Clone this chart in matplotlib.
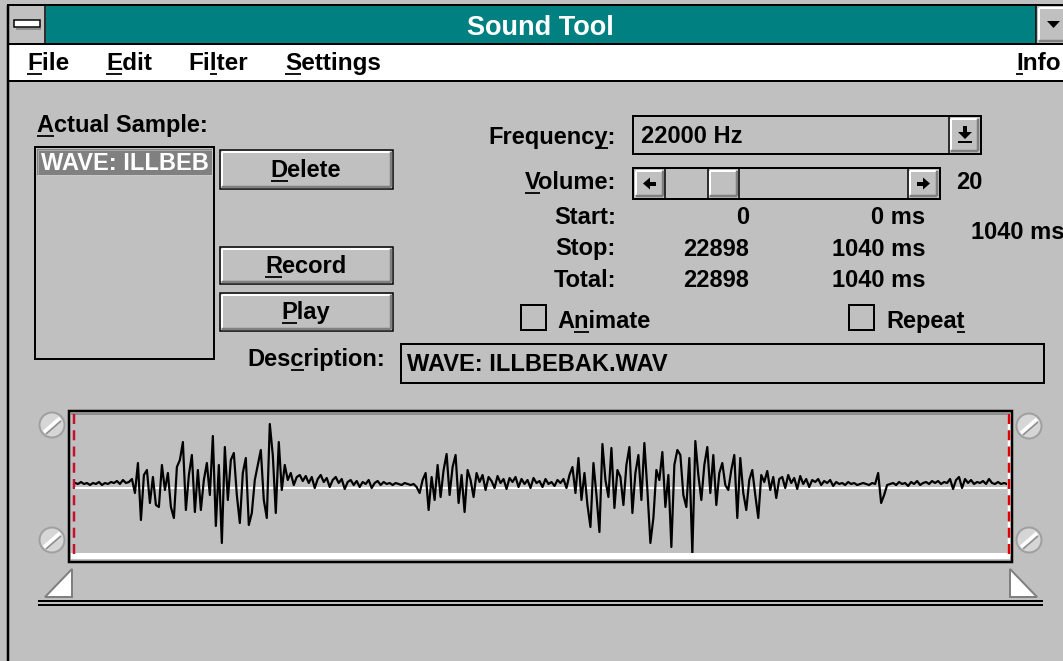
"""
Sound Tool dialog (Windows 3.x style) with the recorded waveform.
"""

import numpy as np
import matplotlib.pyplot as plt
from matplotlib.patches import Rectangle, Circle, Polygon

W, H = 1063, 661
PX = 72 / 100  # one pixel in points at dpi 100
GRAY = "#c0c0c0"
DARK = "#808080"
TEAL = "#008080"

plt.rcParams["font.family"] = ["Liberation Sans", "DejaVu Sans"]

# ---- data -------------------------------------------------------------
title = "Sound Tool"
menu_labels = ["File", "Edit", "Filter", "Settings"]
menu_hotkeys = [0, 0, 2, 0]
sample_name = "WAVE: ILLBEBAK.WAV"
frequency_hz = 22000
volume = 20
row_labels = ["Start:", "Stop:", "Total:"]
row_samples = [0, 22898, 22898]
row_ms = [0, 1040, 1040]
selection_ms = 1040

# waveform, 8-bit sample offsets from the zero line
wave_lead = [2, 1, 3, 1, 2, 0, 2, 1, 3, 0, 2, 1, 3, 2, 4, 1, 5, 2]
wave_burst1 = [3, 6, -8, 22, -35, 10, 15, -18, 8, -20, -22, 20, -5, 12, -22,
               -33, 18, 25, 43, -25, 10, 30, -27, 15, -25, 5, 22, -10, 49,
               -41, 20, -58, 38, -15, 25, 32, -10, -38, 12, 27, -40, -28, 5,
               20, 35, -15, -33, 61, 30, -28, 43, -5, 20, 5, 12, 0, 8]
wave_tail1 = [10, 4, 9, 2, 8, -3, 6, 10, 3, 7, -2, 5, 8, 2, 6, -4, 3, 5, 0,
              4, -2, 3, 1, 5, -3, 2, 4, 0, 3, 1, 2, 0, 2, 1, 0, 2, 1, 0, 1]
wave_burst2 = [-2, -8, 5, 12, -25, 8, -15, 20, -12, 15, 31, -10, 18, 30, -18,
               10, -27, 15, 5, -12, 12, 3, 10, -5, 8, 4, -3, 9, 2, 6, -4, 7,
               3, 8, -2, 6, 1, 5, -3, 7, 2, 4, -2, 6, 1, 3, -1, 5]
wave_gap = [2, 6, -3, 10]
wave_burst3 = [18, -8, 27, -15, 12, -20, -42, 22, -10, -47, 41, 5, -12, 37,
               -23, 15, 8, -20, 20, 38, -28, 12, 30, -15, 42, -5, -58, -33,
               15, 5, 33, -22, 10, -62, 20, 35, 30, -10, -22, 27, -69, 44, 10,
               -15, 20, 38, -8, 30, -20, 12, 22, 0, -5, 15, 30, -33, 27, -8,
               -25, 5, 15, -10, -33, 10, 3, 14, -5, 8, -13, 6]
wave_tail3 = [8, -3, 10, 2, 7, -4, 9, 1, 6, -2, 5, 3, 6, 0, 4, 2, 5, -1, 3, 1,
              2, 0, 3, 1, 2, 0, 1, 2, 1, 0, 2, 1]
wave_end = [12, -18, -10, 0, 1, 2, 0, 3, 1, 2, -1, 3, 1, 4, 0, 2, 3, 1, 4, 2,
            4, 1, 3, 2, 6, -4, 5, 8, -3, 6, 2, 5, 1, 3, 2, 4, 1, 6, 2, 1, 3,
            1, 2, 1]

wave = np.array(wave_lead + wave_burst1 + wave_tail1 + wave_burst2 + wave_gap
                + wave_burst3 + wave_tail3 + wave_end)

# ---- canvas -----------------------------------------------------------
fig = plt.figure(figsize=(W / 100, H / 100), dpi=100, facecolor=GRAY)
ax = fig.add_axes([0, 0, 1, 1])
ax.set_xlim(0, W)
ax.set_ylim(H, 0)
ax.axis("off")
renderer = fig.canvas.get_renderer()


def rect(x0, y0, x1, y1, fc="none", ec="none", lw=0.0, z=1):
    p = Rectangle((x0, y0), x1 - x0, y1 - y0, fc=fc, ec=ec, lw=lw * PX, zorder=z)
    ax.add_patch(p)
    return p


def line(xs, ys, color="black", lw=1.0, z=2, **kw):
    ax.plot(xs, ys, color=color, lw=lw * PX, solid_capstyle="butt", zorder=z, **kw)


def raised(x0, y0, x1, y1, border=True):
    rect(x0, y0, x1, y1, fc=GRAY, ec="black" if border else "none",
         lw=1.5 if border else 0, z=2)
    line([x0 + 2, x1 - 3], [y0 + 2, y0 + 2], "white", 2, z=3)
    line([x0 + 2, x0 + 2], [y0 + 2, y1 - 3], "white", 2, z=3)
    line([x0 + 2, x1 - 2], [y1 - 2, y1 - 2], DARK, 2.5, z=3)
    line([x1 - 2, x1 - 2], [y0 + 2, y1 - 2], DARK, 2.5, z=3)


def label(x, y, s, hot=None, ha="left", size=17, color="black", clip=None):
    t = ax.text(x, y, s, ha=ha, va="baseline", fontsize=size, color=color,
                fontweight="bold", zorder=6)
    if clip is not None:
        t.set_clip_path(clip)
        t.set_clip_on(True)
    if hot is None:
        return t

    def width(sub):
        if not sub:
            return 0.0
        tmp = ax.text(0, 0, sub, fontsize=size, fontweight="bold")
        w = tmp.get_window_extent(renderer).width
        tmp.remove()
        return w

    left = t.get_window_extent(renderer).x0
    a = left + width(s[:hot])
    b = left + width(s[:hot + 1])
    line([a, b], [y + 3.5, y + 3.5], color, 1.8, z=6)
    return t


# ---- window frame, title bar and menu --------------------------------
line([7, W], [5, 5], "black", 2)
line([8, 8], [5, H], "black", 2.5)
rect(9, 6, 45, 43, fc=GRAY)
line([45, 45], [6, 43], "black", 1.5)
rect(14, 20, 40, 27, fc="white", ec="black", lw=1.5, z=3)
line([16, 41], [28.5, 28.5], DARK, 1.5)
rect(46, 6, 1036, 43, fc=TEAL)
line([1036, 1036], [6, 43], "black", 1.5)
raised(1037, 6, W + 4, 43, border=False)
ax.add_patch(Polygon([(1047, 21), (1060, 21), (1053.5, 28)], fc="black", zorder=4))
line([8, W], [44, 44], "black", 2)
rect(9, 45, W, 80, fc="white")
line([8, W], [81, 81], "black", 2)

ax.text(540, 35, title, ha="center", va="baseline", fontsize=19.5,
        fontweight="bold", color="white", zorder=6)

menu_x = [27, 106, 188, 285]
for x, s, k in zip(menu_x, menu_labels, menu_hotkeys):
    label(x, 70, s, hot=k, size=17.5)
label(1016, 70, "Info", hot=0, size=17.5)

# ---- left column: sample list and buttons ------------------------------
label(37, 132, "Actual Sample:", hot=0)
box = rect(35, 147, 214, 359, fc=GRAY, ec="black", lw=2, z=2)
rect(37, 149, 212, 175, fc=DARK, z=3)
rect(37.5, 149.5, 211.5, 174.5, ec="#d0d0d0", lw=1, z=4).set_linestyle((0, (1, 1)))
# the list box is narrow, only the start of the name is visible
label(41, 170, sample_name[:12], color="white", clip=box)

for (y0, y1, bl), (s, k) in zip([(150, 189, 177), (247, 284, 273), (293, 331, 319)],
                                [("Delete", 0), ("Record", 0), ("Play", 0)]):
    raised(220, y0, 393, y1)
    label(306, bl, s, hot=k, ha="center")

# ---- right column: frequency, volume, positions ---------------------------
label(616, 144, "Frequency:", hot=8, ha="right")
rect(633, 116, 981, 154, fc=GRAY, ec="black", lw=2, z=2)
raised(949, 117, 980, 153, border=False)
line([949, 949], [116, 154], "black", 1.5, z=4)
rect(963, 126, 967, 132, fc="black", z=4)
ax.add_patch(Polygon([(958, 132), (972, 132), (965, 139)], fc="black", zorder=4))
rect(958, 141, 972, 143, fc="black", z=4)
label(641, 143, f"{frequency_hz} Hz")

label(616, 189, "Volume:", hot=0, ha="right")
rect(633, 168, 940, 199, fc=GRAY, ec="black", lw=2, z=2)
raised(634, 169, 665, 198, border=False)
raised(908, 169, 939, 198, border=False)
line([665, 665], [168, 199], "black", 1.5, z=4)
line([908, 908], [168, 199], "black", 1.5, z=4)
ax.add_patch(Polygon([(643, 183.5), (650, 177.5), (650, 189.5)], fc="black", zorder=4))
rect(650, 181.5, 656, 185.5, fc="black", z=4)
ax.add_patch(Polygon([(930, 183.5), (923, 177.5), (923, 189.5)], fc="black", zorder=4))
rect(917, 181.5, 923, 185.5, fc="black", z=4)
thumb_x = 666 + (908 - 666 - 31) * volume / 100
raised(thumb_x, 169, thumb_x + 31, 198, border=False)
line([thumb_x, thumb_x], [168, 199], "black", 1.5, z=4)
line([thumb_x + 31, thumb_x + 31], [168, 199], "black", 1.5, z=4)
label(956, 189, str(volume))

for bl, s, n, ms in zip([224, 255.5, 287], row_labels, row_samples, row_ms):
    label(616, bl, s, ha="right")
    label(749, bl, str(n), ha="right")
    label(925, bl, f"{ms} ms", ha="right")
label(971, 239, f"{selection_ms} ms")

rect(521, 305, 546, 330, ec="black", lw=2, z=2)
label(557, 328, "Animate", hot=1)
rect(849, 305, 874, 330, ec="black", lw=2, z=2)
label(886, 328, "Repeat", hot=5)

label(385, 366, "Description:", hot=3, ha="right")
rect(401, 344, 1044, 383, fc=GRAY, ec="black", lw=2, z=2)
label(407, 371, sample_name)

# ---- waveform frame ---------------------------------------------------------
rect(69, 411, 1012, 562, fc=GRAY, ec="black", lw=2.5, z=2)
line([71, 1010], [413.5, 413.5], DARK, 1.5, z=3)
rect(71, 553, 1010, 559, fc="white", z=3)
line([1008.5, 1008.5], [414, 557], "white", 2.5, z=4)
line([74, 74], [414, 556], "#c8102e", 2.5, z=5, dashes=(4, 2.5))
line([1008.5, 1008.5], [414, 557], "#e00000", 2.5, z=5, dashes=(4, 2.5))


def screw(cx, cy, r=12.5):
    ax.add_patch(Circle((cx, cy), r, fc="#d6d6d6", ec="#a0a0a0", lw=2 * PX, zorder=3))
    line([cx - 8, cx + 8], [cy + 7, cy - 7], "white", 3.5, z=4)
    line([cx - 6, cx + 9], [cy + 9, cy - 4], "#8c8c8c", 1.5, z=4)


for cx, cy in [(52, 425), (52, 540), (1029, 426), (1029, 540)]:
    screw(cx, cy)

ax.add_patch(Polygon([(45, 597), (72, 597), (72, 569)], fc="white", ec=DARK,
                     lw=2 * PX, zorder=3))
ax.add_patch(Polygon([(1010, 569), (1010, 597), (1037, 597)], fc="white", ec=DARK,
                     lw=2 * PX, zorder=3))
line([38, 1043], [601, 601], "black", 2)
line([38, 1043], [605, 605], "black", 2)

# the wave itself in its own axes, 1 unit = 1 pixel around the zero line
top, bottom, zero = 414, 553, 485
wax = fig.add_axes([75 / W, 1 - bottom / H, (1007 - 75) / W, (bottom - top) / H])
wax.set_xlim(0, len(wave) - 1)
wax.set_ylim(zero - bottom, zero - top)
wax.axis("off")
wax.patch.set_alpha(0)
wax.axhline(-3, color="white", lw=2 * PX, zorder=1)
wax.plot(np.arange(len(wave)), wave, color="black", lw=2.2 * PX, zorder=2)

fig.savefig("out.png", dpi=100, facecolor=GRAY)
